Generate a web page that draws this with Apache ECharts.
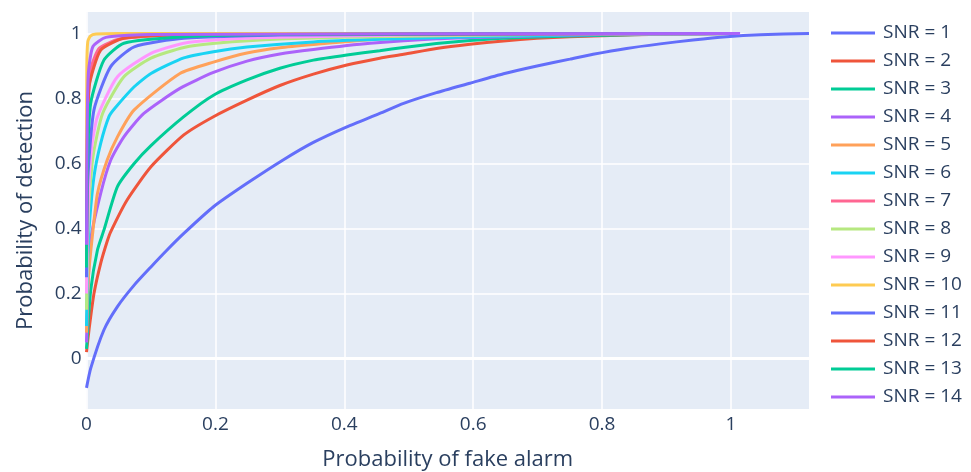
<!DOCTYPE html>
<html>
<head>
<meta charset="utf-8">
<script src="https://cdn.jsdelivr.net/npm/echarts@6/dist/echarts.min.js"></script>
<style>html,body{margin:0;padding:0;background:#fff}#c{width:971px;height:472px}</style>
</head>
<body>
<div id="c"></div>
<script>
const xTicks = [0, 0.2, 0.4, 0.6, 0.8, 1];
const yTicks = [0, 0.2, 0.4, 0.6, 0.8, 1];
const xRange = [0, 1.121];
const yRange = [-0.155, 1.066];
const seriesNames = ['SNR = 1','SNR = 2','SNR = 3','SNR = 4','SNR = 5','SNR = 6','SNR = 7','SNR = 8','SNR = 9','SNR = 10','SNR = 11','SNR = 12','SNR = 13','SNR = 14'];
const colors = ['#636efa','#EF553B','#00cc96','#ab63fa','#FFA15A','#19d3f3','#FF6692','#B6E880','#FF97FF','#FECB52','#636efa','#EF553B','#00cc96','#ab63fa'];

const snr1 = [[0,-0.09],[0.0065,-0.03],[0.027,0.088],[0.048,0.16],[0.074,0.226],[0.1,0.282],[0.125,0.334],[0.151,0.385],[0.197,0.467],[0.249,0.539],[0.305,0.611],[0.352,0.665],[0.404,0.713],[0.455,0.754],[0.492,0.785],[0.543,0.818],[0.595,0.847],[0.647,0.876],[0.699,0.9],[0.75,0.921],[0.786,0.936],[0.838,0.954],[0.89,0.968],[0.941,0.98],[0.993,0.99],[1.045,0.996],[1.121,1.0]];
const snr2 = [[0,0.02],[0.004,0.09],[0.0116,0.2],[0.022,0.293],[0.032,0.36],[0.0375,0.39],[0.063,0.488],[0.1,0.59],[0.151,0.688],[0.197,0.744],[0.249,0.795],[0.3,0.84],[0.352,0.875],[0.404,0.903],[0.455,0.924],[0.492,0.936],[0.543,0.954],[0.595,0.967],[0.647,0.977],[0.699,0.985],[0.75,0.99],[0.85,0.996],[1.0,1.0]];
const snr3 = [[0,0.03],[0.0065,0.21],[0.017,0.334],[0.027,0.395],[0.048,0.529],[0.074,0.6],[0.1,0.655],[0.151,0.744],[0.197,0.81],[0.249,0.857],[0.3,0.893],[0.352,0.918],[0.404,0.934],[0.455,0.947],[0.492,0.957],[0.543,0.969],[0.595,0.978],[0.647,0.985],[0.75,0.992],[0.9,0.998],[1.0,1.0]];
const snr4 = [[0,0.05],[0.002,0.2],[0.0065,0.365],[0.022,0.508],[0.0375,0.61],[0.058,0.682],[0.089,0.754],[0.145,0.831],[0.197,0.88],[0.249,0.915],[0.3,0.937],[0.352,0.951],[0.44,0.97],[0.543,0.984],[0.647,0.99],[0.8,0.997],[1.0,1.0]];
const snr5 = [[0,0.08],[0.003,0.25],[0.009,0.375],[0.017,0.508],[0.032,0.61],[0.048,0.682],[0.074,0.765],[0.145,0.877],[0.197,0.912],[0.249,0.94],[0.3,0.956],[0.352,0.966],[0.455,0.983],[0.6,0.993],[0.8,0.998],[1.0,1.0]];
const snr6 = [[0,0.1],[0.002,0.3],[0.004,0.4],[0.0116,0.56],[0.022,0.662],[0.035,0.745],[0.044,0.77],[0.074,0.836],[0.1,0.877],[0.151,0.925],[0.197,0.944],[0.249,0.958],[0.352,0.974],[0.455,0.982],[0.6,0.99],[0.8,0.997],[1.0,1.0]];
const snr7 = [[0,0.3],[0.001,0.6],[0.003,0.8],[0.008,0.9],[0.02,0.955],[0.05,0.982],[0.1,0.992],[0.2,0.997],[0.4,0.999],[1.0,1.0]];
const snr8 = [[0,0.15],[0.003,0.45],[0.01,0.62],[0.025,0.754],[0.058,0.867],[0.1,0.924],[0.151,0.957],[0.2,0.97],[0.3,0.983],[0.45,0.99],[0.7,0.997],[1.007,1.0]];
const snr9 = [[0,0.2],[0.003,0.5],[0.008,0.65],[0.017,0.744],[0.048,0.867],[0.1,0.939],[0.151,0.97],[0.2,0.98],[0.3,0.988],[0.5,0.995],[1.001,1.0]];
const snr10 = [[0,0.5],[0.0005,0.9],[0.002,0.975],[0.006,0.992],[0.015,0.998],[0.05,1.0],[0.994,1.0]];
const snr11 = [[0,0.25],[0.002,0.55],[0.0116,0.765],[0.0375,0.898],[0.074,0.959],[0.151,0.985],[0.3,0.995],[1.014,1.0]];
const snr12 = [[0,0.3],[0.001,0.6],[0.004,0.836],[0.022,0.949],[0.058,0.985],[0.15,0.996],[1.005,1.0]];
const snr13 = [[0,0.28],[0.0015,0.6],[0.0065,0.785],[0.027,0.918],[0.058,0.97],[0.151,0.99],[0.3,0.997],[1.005,1.0]];
const snr14 = [[0,0.35],[0.001,0.7],[0.003,0.88],[0.01,0.96],[0.03,0.988],[0.1,0.997],[1.014,1.0]];

const allData = [snr1,snr2,snr3,snr4,snr5,snr6,snr7,snr8,snr9,snr10,snr11,snr12,snr13,snr14];

const chart = echarts.init(document.getElementById('c'), null, {renderer: 'canvas'});
const font = "'Open Sans', 'Noto Sans', sans-serif";
const txt = '#2a3f5f';

const series = [{
  type: 'line', name: '_zero', data: [[xRange[0], 0], [xRange[1], 0]], z: 1, silent: true,
  showSymbol: false, symbol: 'none', lineStyle: {color: '#ffffff', width: 3}, tooltip: {show: false}
}];
allData.forEach((d, i) => {
  series.push({
    type: 'line', name: seriesNames[i], data: d,
    showSymbol: false, symbol: 'none', smooth: 0.2,
    lineStyle: {width: 3, color: colors[i]}, itemStyle: {color: colors[i]},
    z: 2, animation: false, clip: true
  });
});

chart.setOption({
  animation: false,
  textStyle: {fontFamily: font},
  grid: {left: 86.5, top: 12, right: 162, bottom: 63, show: true, backgroundColor: '#E5ECF6', borderWidth: 0, containLabel: false, outerBoundsMode: 'none'},
  xAxis: {
    type: 'value', min: xRange[0], max: xRange[1],
    name: 'Probability of fake alarm', nameLocation: 'middle', nameGap: 40,
    nameTextStyle: {fontSize: 22, color: txt, fontFamily: font},
    axisLine: {show: false}, axisTick: {show: false, customValues: xTicks},
    axisLabel: {customValues: xTicks, fontSize: 19, color: txt, margin: 6, fontFamily: font},
    splitLine: {show: true, lineStyle: {color: '#ffffff', width: 1.5}}
  },
  yAxis: {
    type: 'value', min: yRange[0], max: yRange[1],
    name: 'Probability of detection', nameLocation: 'middle', nameGap: 50, nameRotate: 90,
    nameTextStyle: {fontSize: 22, color: txt, fontFamily: font},
    axisLine: {show: false}, axisTick: {show: false, customValues: yTicks},
    axisLabel: {customValues: yTicks, fontSize: 19, color: txt, margin: 5, fontFamily: font},
    splitLine: {show: true, lineStyle: {color: '#ffffff', width: 1.5}}
  },
  legend: {
    data: seriesNames, orient: 'vertical', left: 831, top: 23, padding: 0,
    icon: 'rect', itemWidth: 44, itemHeight: 3, itemGap: 8,
    textStyle: {fontSize: 19, color: txt, lineHeight: 20, padding: [0,0,0,3], fontFamily: font}
  },
  series: series
});
</script>
</body>
</html>
